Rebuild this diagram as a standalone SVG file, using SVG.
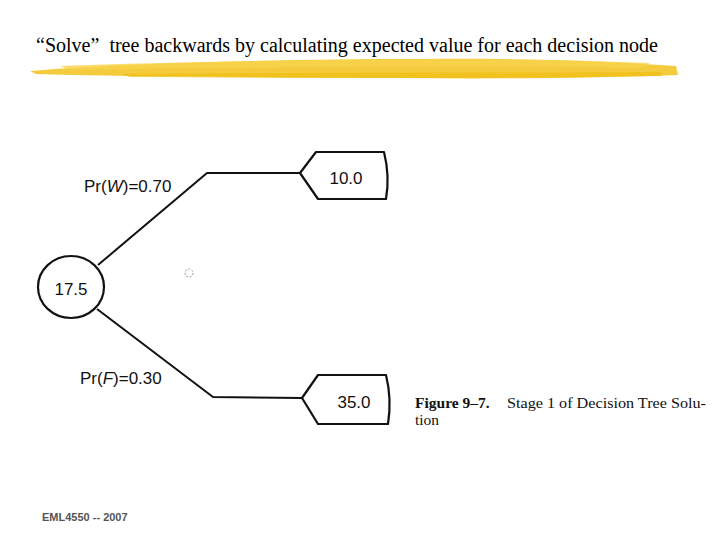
<svg xmlns="http://www.w3.org/2000/svg" width="720" height="540" viewBox="0 0 720 540">
<style>
.ln{fill:none;stroke:#111;stroke-width:2;stroke-linejoin:round}
.sh{fill:#fff;stroke:#111;stroke-width:2.2;stroke-linejoin:round}
.val{font-family:"Liberation Sans",Arial,sans-serif;font-size:17px;fill:#111}
.lab{font-family:"Liberation Sans",Arial,sans-serif;font-size:17px;fill:#111}
.cap{font-family:"Liberation Serif","Times New Roman",serif;font-size:15.5px;fill:#111}
</style>
<rect width="720" height="540" fill="#fff"/>
<text x="36" y="52" font-family="Liberation Serif,'Times New Roman',serif" font-size="20" fill="#000" textLength="622" lengthAdjust="spacingAndGlyphs" xml:space="preserve">“Solve”  tree backwards by calculating expected value for each decision node</text>
<g id="brush">
<path d="M30,71 C120,63 300,59 420,59 C540,58 620,62 676,66 L678,75 C600,78 500,79 400,78 C280,77 150,77 36,74 Z" fill="#f2c21b" opacity="0.85"/>
<path d="M60,66 C200,61 400,58 560,60 L650,63 L640,68 C500,66 300,66 70,70 Z" fill="#f7d24a" opacity="0.8"/>
<path d="M120,74 C300,72 500,73 660,72 L662,76 C500,79 300,78 130,77 Z" fill="#f0bd10" opacity="0.7"/>
</g>
<g id="connectors">
<polyline class="ln" points="98,265 207,173 300,173"/>
<polyline class="ln" points="97,309 213,397 302,398"/>
</g>
<g id="chance">
<ellipse cx="71" cy="287" rx="33" ry="31" class="sh"/>
<text x="71" y="295" text-anchor="middle" class="val">17.5</text>
</g>
<g id="payoff-w">
<path class="sh" d="M300,173 L316,152 L384,152 Q390,176 386,199 L318,199 Z"/>
<text x="346" y="184" text-anchor="middle" class="val">10.0</text>
</g>
<g id="payoff-f">
<path class="sh" d="M302,398 L318,375 L386,375 Q392,399 388,424 L318,424 Z"/>
<text x="354" y="408" text-anchor="middle" class="val">35.0</text>
</g>
<text x="84" y="192" class="lab">Pr(<tspan font-style="italic">W</tspan>)=0.70</text>
<text x="80" y="384" class="lab">Pr(<tspan font-style="italic">F</tspan>)=0.30</text>
<circle cx="189" cy="273" r="4" fill="none" stroke="#999" stroke-width="1" stroke-dasharray="2,1.5"/>
<text x="415" y="408" class="cap" font-weight="bold">Figure 9–7.</text>
<text x="507" y="408" class="cap" textLength="199" lengthAdjust="spacingAndGlyphs">Stage 1 of Decision Tree Solu-</text>
<text x="415" y="425" class="cap">tion</text>
<text x="42" y="521" font-family="Liberation Sans,Arial,sans-serif" font-size="11" font-weight="bold" fill="#555">EML4550 -- 2007</text>
</svg>
